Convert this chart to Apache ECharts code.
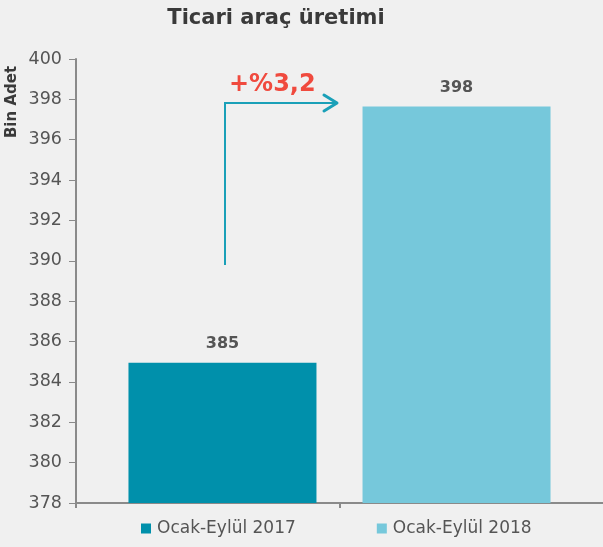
<!DOCTYPE html>
<html>
<head>
<meta charset="utf-8">
<script src="https://cdn.jsdelivr.net/npm/echarts@6/dist/echarts.min.js"></script>
<style>
  html, body { margin: 0; padding: 0; background: #f0f0f0; }
  #chart { width: 603px; height: 547px; }
</style>
</head>
<body>
<div id="chart"></div>
<script>
// veri
var categories = ['']
var seriesNames = ['Ocak-Eylül 2017', 'Ocak-Eylül 2018']
var values2017 = [384.95]
var values2018 = [397.65]
var yTicks = { min: 378, max: 400, interval: 2 }

var myChart = echarts.init(document.getElementById('chart'))
var fontFam = '"DejaVu Sans", sans-serif'
var labelStyle = {
  show: true,
  position: 'top',
  distance: 11,
  color: '#555',
  fontSize: 16,
  fontWeight: 'bold',
  fontFamily: fontFam,
  formatter: function (p) { return Math.round(p.value) }
}

var option = {
  backgroundColor: '#f0f0f0',
  animation: false,
  title: {
    text: 'Ticari araç üretimi',
    left: 271,
    textAlign: 'center',
    top: 3,
    textStyle: { color: '#3a3a3a', fontSize: 21, fontWeight: 'bold', fontFamily: fontFam }
  },
  legend: {
    bottom: 5,
    left: 136,
    itemWidth: 10,
    itemHeight: 10,
    itemGap: 81,
    icon: 'rect',
    textStyle: { color: '#555', fontSize: 17, fontFamily: fontFam, padding: [0, 0, 0, 1] },
    data: seriesNames
  },
  grid: { left: 76, right: 0, top: 59, bottom: 44 },
  xAxis: {
    type: 'category',
    data: categories,
    axisLine: { lineStyle: { color: '#8a8a8a', width: 2 } },
    axisTick: { show: true, alignWithLabel: true, length: 5, lineStyle: { color: '#8a8a8a', width: 2 } },
    axisLabel: { show: false }
  },
  yAxis: {
    type: 'value',
    min: yTicks.min,
    max: yTicks.max,
    interval: yTicks.interval,
    axisLine: { show: true, lineStyle: { color: '#8a8a8a', width: 2 } },
    axisTick: { show: true, length: 7, lineStyle: { color: '#8a8a8a', width: 1 } },
    axisLabel: { color: '#555', fontSize: 17.5, fontFamily: fontFam, margin: 14 },
    splitLine: { show: false }
  },
  series: [
    {
      name: seriesNames[0],
      type: 'bar',
      data: values2017,
      barWidth: 188,
      barGap: '24.5%',
      itemStyle: { color: '#0090ab' },
      label: labelStyle
    },
    {
      name: seriesNames[1],
      type: 'bar',
      data: values2018,
      barWidth: 188,
      itemStyle: { color: '#76c8db' },
      label: labelStyle
    }
  ],
  graphic: [
    // eksen başlığı
    { type: 'text', x: 12, y: 102, rotation: Math.PI / 2, style: { text: 'Bin Adet', fill: '#3a3a3a', fontSize: 15, fontWeight: 'bold', fontFamily: fontFam, align: 'center', verticalAlign: 'middle' } },
    // x ekseni başlangıç çentiği
    { type: 'line', shape: { x1: 76, y1: 503, x2: 76, y2: 508 }, style: { stroke: '#8a8a8a', lineWidth: 2 } },
    // artış oku
    { type: 'polyline', shape: { points: [[225, 265], [225, 103], [336, 103]] }, style: { stroke: '#1aa0b8', lineWidth: 2, fill: null } },
    { type: 'polyline', shape: { points: [[324, 95], [337, 103], [324, 111]] }, style: { stroke: '#1aa0b8', lineWidth: 3, fill: null, lineCap: 'round', lineJoin: 'round' } },
    { type: 'text', x: 229, y: 73, style: { text: '+%3,2', fill: '#f04a3e', fontSize: 24, fontWeight: 'bold', fontFamily: fontFam } }
  ]
}

myChart.setOption(option)
</script>
</body>
</html>
